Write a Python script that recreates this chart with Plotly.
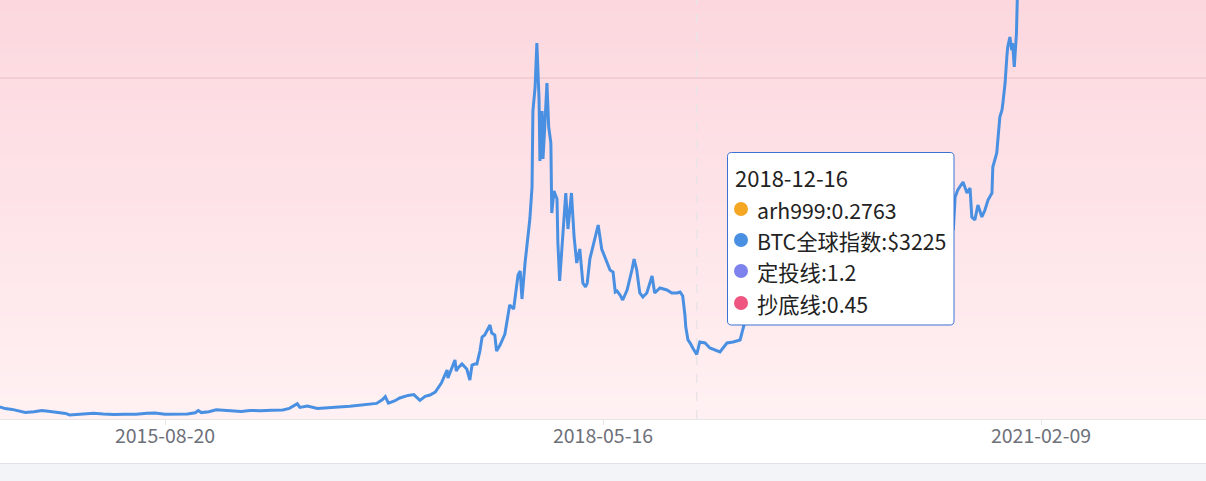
import plotly.graph_objects as go

# ---------------- data ----------------
dates = [
    '2014-08-08', '2014-08-20', '2014-09-05', '2014-09-22', '2014-10-05', '2014-10-25',
    '2014-11-12', '2014-12-01', '2014-12-20', '2015-01-05', '2015-01-14', '2015-02-01',
    '2015-02-20', '2015-03-10', '2015-04-01', '2015-04-25', '2015-05-20', '2015-06-15',
    '2015-07-10', '2015-07-28', '2015-08-20', '2015-09-15', '2015-10-10', '2015-10-28',
    '2015-11-04', '2015-11-11', '2015-11-28', '2015-12-15', '2016-01-05', '2016-01-16',
    '2016-02-10', '2016-03-01', '2016-03-25', '2016-04-20', '2016-05-15', '2016-05-30',
    '2016-06-17', '2016-06-23', '2016-07-10', '2016-08-02', '2016-08-25', '2016-09-20',
    '2016-10-15', '2016-11-05', '2016-11-25', '2016-12-15', '2016-12-28', '2017-01-04',
    '2017-01-11', '2017-01-25', '2017-02-06', '2017-02-25', '2017-03-10', '2017-03-24',
    '2017-04-05', '2017-04-16', '2017-04-28', '2017-05-04', '2017-05-12', '2017-05-20',
    '2017-05-25', '2017-05-27', '2017-06-07', '2017-06-12', '2017-06-15', '2017-06-19',
    '2017-06-28', '2017-07-09', '2017-07-16', '2017-07-21', '2017-07-27', '2017-08-01',
    '2017-08-08', '2017-08-13', '2017-08-19', '2017-08-31', '2017-09-04', '2017-09-11',
    '2017-09-15', '2017-09-23', '2017-10-04', '2017-10-12', '2017-10-15', '2017-10-24',
    '2017-10-27', '2017-11-03', '2017-11-08', '2017-11-12', '2017-11-19', '2017-11-26',
    '2017-11-30', '2017-12-05', '2017-12-07', '2017-12-12', '2017-12-16', '2017-12-21',
    '2017-12-23', '2017-12-28', '2017-12-30', '2018-01-03', '2018-01-08', '2018-01-12',
    '2018-01-17', '2018-01-19', '2018-01-24', '2018-01-31', '2018-02-02', '2018-02-06',
    '2018-02-13', '2018-02-20', '2018-02-25', '2018-03-05', '2018-03-11', '2018-03-17',
    '2018-03-24', '2018-03-31', '2018-04-06', '2018-04-10', '2018-04-16', '2018-04-28',
    '2018-05-05', '2018-05-13', '2018-05-20', '2018-06-01', '2018-06-08', '2018-06-13',
    '2018-06-17', '2018-06-24', '2018-06-30', '2018-07-10', '2018-07-21', '2018-07-26',
    '2018-08-01', '2018-08-08', '2018-08-15', '2018-08-24', '2018-09-05', '2018-09-11',
    '2018-09-23', '2018-10-09', '2018-10-20', '2018-11-01', '2018-11-08', '2018-11-14',
    '2018-11-19', '2018-11-21', '2018-11-26', '2018-12-01', '2018-12-07', '2018-12-16',
    '2018-12-23', '2019-01-04', '2019-01-15', '2019-01-26', '2019-02-07', '2019-02-23',
    '2019-03-09', '2019-03-25', '2019-04-02', '2019-04-10', '2019-05-01', '2019-05-14',
    '2019-06-01', '2019-06-26', '2019-07-10', '2019-07-17', '2019-08-06', '2019-09-01',
    '2019-09-25', '2019-10-26', '2019-11-25', '2019-12-17', '2020-01-14', '2020-02-12',
    '2020-03-12', '2020-04-01', '2020-05-01', '2020-06-01', '2020-07-01', '2020-07-24',
    '2020-07-28', '2020-08-03', '2020-08-15', '2020-08-24', '2020-08-31', '2020-09-04',
    '2020-09-11', '2020-09-18', '2020-09-27', '2020-10-04', '2020-10-11', '2020-10-20',
    '2020-10-22', '2020-10-31', '2020-11-07', '2020-11-12', '2020-11-14', '2020-11-19',
    '2020-11-23', '2020-11-25', '2020-11-30', '2020-12-04', '2020-12-06', '2020-12-10',
    '2020-12-15', '2020-12-17', '2020-12-20', '2020-12-27', '2021-01-02', '2021-01-08',
    '2021-01-22', '2021-02-09', '2021-03-13', '2021-05-19', '2021-07-20', '2021-09-07',
    '2021-11-10', '2022-01-24', '2022-02-20',
]
btc_index = [
    600, 520, 480, 400, 330, 360,
    420, 380, 330, 280, 200, 230,
    250, 290, 250, 225, 240, 240,
    290, 295, 235, 230, 245, 310,
    420, 320, 360, 460, 430, 380,
    380, 430, 415, 440, 455, 530,
    760, 580, 650, 530, 580, 600,
    640, 700, 740, 780, 960, 1120,
    790, 900, 1050, 1180, 1220, 930,
    1130, 1200, 1350, 1550, 1800, 2200,
    2450, 2050, 2650, 2950, 2400, 2550,
    2750, 2500, 1950, 2700, 2750, 2750,
    3400, 4100, 4200, 4700, 4300, 4200,
    3400, 3700, 4250, 5400, 5700, 5500,
    5950, 7200, 7400, 6000, 7800, 9300,
    10000, 11600, 15400, 16600, 18800, 16000,
    12900, 15400, 13000, 14600, 16800, 14600,
    13800, 10300, 11400, 11000, 8800, 6900,
    9300, 11300, 9500, 11300, 9100, 7800,
    8500, 6800, 6600, 6800, 8000, 9000,
    9700, 8500, 8100, 7450, 7350, 6350,
    6400, 6200, 5950, 6450, 7450, 8000,
    7450, 6300, 6100, 6300, 7150, 6300,
    6550, 6450, 6300, 6300, 6350, 6150,
    5200, 4600, 3950, 3800, 3550, 3225,
    3850, 3800, 3550, 3450, 3350, 3800,
    3850, 3950, 4700, 5300, 5400, 8000,
    8600, 12900, 12300, 9500, 11900, 9700,
    8400, 9500, 7000, 6600, 8800, 10300,
    4900, 6600, 8800, 10200, 9100, 9500,
    11100, 11450, 11850, 11300, 11550, 10100,
    9950, 10700, 10100, 10450, 10950, 11300,
    12600, 13300, 15100, 15450, 15800, 16800,
    18100, 18600, 19100, 18450, 18800, 17600,
    19300, 22800, 23800, 26500, 32000, 40000,
    32000, 46000, 61000, 37000, 29800, 52000,
    67000, 36000, 38000,
]

tick_dates = ['2015-08-20', '2018-05-16', '2021-02-09']

hover_date = '2018-12-16'
arh999_value = 0.2763
dingtou_line = 1.2
chaodi_line = 0.45
btc_value = btc_index[dates.index(hover_date)]

x_range = ['2014-08-08 07:00', '2022-02-20 17:00']
y_range = [0, 20950]
grid_values = [17050]

# ---------------- figure ----------------
W, H = 1206, 481
PLOT_BOTTOM = 419  # px from top
PLOT_H = PLOT_BOTTOM


def px_x(px):
    return px / W


def px_y(py):
    return (PLOT_BOTTOM - py) / PLOT_H


def rounded_rect(x0, y0, x1, y1, rad):
    """Rounded rectangle path, pixel inputs (y downwards), paper output."""
    pts = []
    def P(x, y):
        return '%.6f,%.6f' % (px_x(x), px_y(y))
    pts.append('M ' + P(x0 + rad, y0))
    pts.append('L ' + P(x1 - rad, y0))
    pts.append('Q ' + P(x1, y0) + ' ' + P(x1, y0 + rad))
    pts.append('L ' + P(x1, y1 - rad))
    pts.append('Q ' + P(x1, y1) + ' ' + P(x1 - rad, y1))
    pts.append('L ' + P(x0 + rad, y1))
    pts.append('Q ' + P(x0, y1) + ' ' + P(x0, y1 - rad))
    pts.append('L ' + P(x0, y0 + rad))
    pts.append('Q ' + P(x0, y0) + ' ' + P(x0 + rad, y0))
    pts.append('Z')
    return ' '.join(pts)


fig = go.Figure()
fig.add_trace(go.Scatter(
    x=dates, y=btc_index, mode='lines', name='BTC全球指数',
    line=dict(color='#4a90e2', width=3), hoverinfo='skip',
))

shapes = []
# vertical gradient background
N = 70
top_c = (252, 215, 222)
bot_c = (255, 241, 243)
for i in range(N):
    t = (i + 0.5) / N
    c = tuple(round(bot_c[k] + (top_c[k] - bot_c[k]) * t) for k in range(3))
    shapes.append(dict(
        type='rect', xref='paper', yref='paper', x0=0, x1=1,
        y0=i / N, y1=(i + 1) / N + 0.002,
        fillcolor='rgb(%d,%d,%d)' % c, line=dict(width=0), layer='below',
    ))

# axis pointer (hover crosshair)
shapes.append(dict(
    type='line', xref='x', yref='paper', x0=hover_date, x1=hover_date, y0=0, y1=1,
    line=dict(color='#ebe4e6', width=1.5, dash='dash'), layer='below',
))

# bottom gray strip (slider area)
shapes.append(dict(
    type='rect', xref='paper', yref='paper', x0=-0.01, x1=1.01,
    y0=px_y(482), y1=px_y(463.5), fillcolor='#f3f4f8', line=dict(width=0),
))
shapes.append(dict(
    type='line', xref='paper', yref='paper', x0=0, x1=1,
    y0=px_y(463.5), y1=px_y(463.5), line=dict(color='#dfe2e8', width=1),
))

# tooltip box
shapes.append(dict(
    type='path', xref='paper', yref='paper',
    path=rounded_rect(727.5, 152.5, 954, 325, 4),
    fillcolor='white', line=dict(color='#3a72d4', width=1), layer='above',
))

items = [
    ('#f5a623', 'arh999:%s' % arh999_value),
    ('#4a90e2', 'BTC全球指数:$%d' % btc_value),
    ('#7d82ec', '定投线:%s' % dingtou_line),
    ('#ee5580', '抄底线:%s' % chaodi_line),
]
row_y = [209, 240, 271, 303]
r = 7
annotations = [dict(
    xref='paper', yref='paper', x=px_x(733), y=px_y(177), text=hover_date,
    showarrow=False, xanchor='left', yanchor='middle',
    font=dict(family='Noto Sans CJK SC', size=22, color='#222222'),
)]
for (col, txt), ry in zip(items, row_y):
    shapes.append(dict(
        type='circle', xref='paper', yref='paper',
        x0=px_x(741 - r), x1=px_x(741 + r), y0=px_y(ry + r), y1=px_y(ry - r),
        fillcolor=col, line=dict(width=0), layer='above',
    ))
    annotations.append(dict(
        xref='paper', yref='paper', x=px_x(755), y=px_y(ry), text=txt,
        showarrow=False, xanchor='left', yanchor='middle',
        font=dict(family='Noto Sans CJK SC', size=21.3, color='#222222'),
    ))

fig.update_layout(
    width=W, height=H,
    margin=dict(l=0, r=0, t=0, b=H - PLOT_BOTTOM, pad=0),
    paper_bgcolor='white', plot_bgcolor='rgba(0,0,0,0)',
    showlegend=False,
    shapes=shapes, annotations=annotations,
    xaxis=dict(
        type='date', range=x_range, tickvals=tick_dates, ticktext=tick_dates,
        showgrid=False, zeroline=False, showline=True, linecolor='#e6e6e6', linewidth=1,
        ticks='outside', ticklen=5, tickcolor='#e6e6e6', ticklabelstandoff=-5,
        tickfont=dict(family='Noto Sans CJK SC', size=19.5, color='#6e7079'),
        fixedrange=True,
    ),
    yaxis=dict(
        range=y_range, tickvals=grid_values, showticklabels=False,
        showgrid=True, gridcolor='#f2cdd4', gridwidth=1.5, zeroline=False,
        fixedrange=True,
    ),
)

fig.write_html(
    'out.html',
    config={'displayModeBar': False},
    post_script="document.body.style.margin='0';document.body.style.overflow='hidden';",
)
